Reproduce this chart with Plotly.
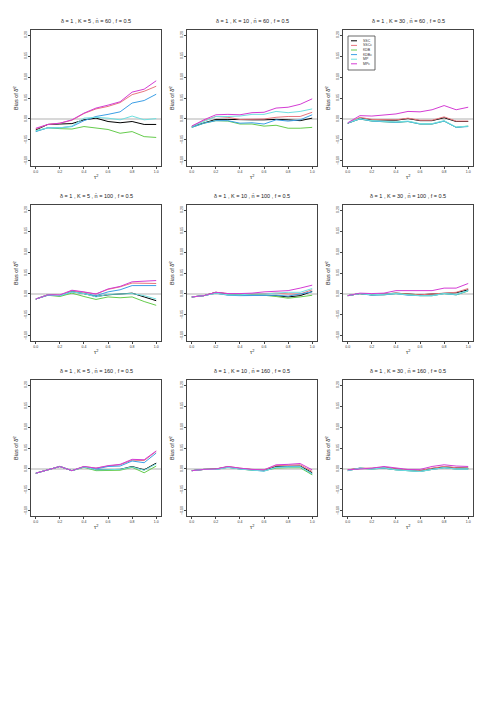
import plotly.graph_objects as go

# page body has an 8px margin, so the figure is 16px smaller than the window
OFF = 8
W, H = 495 - 2 * OFF, 726 - 2 * OFF

# tau^2 grid
tau2 = [0.0, 0.1, 0.2, 0.3, 0.4, 0.5, 0.6, 0.7, 0.8, 0.9, 1.0]

methods = ["SSC", "SSCc", "KDB", "KDBc", "MP", "MPc"]
colors = ["#000000", "#E8767E", "#66CC4D", "#3C9FE6", "#6FE0E0", "#D43CD4"]

K_vals = [5, 10, 30]
nbar_vals = [60, 100, 160]

# bias values, one list per method (order as in `methods`)
k5_n60 = [
    [-0.026, -0.013, -0.012, -0.011, -0.002, 0.002, -0.006, -0.009, -0.006, -0.013, -0.013],
    [-0.024, -0.013, -0.010, -0.003, 0.013, 0.024, 0.030, 0.039, 0.058, 0.066, 0.078],
    [-0.029, -0.021, -0.023, -0.024, -0.018, -0.021, -0.025, -0.034, -0.030, -0.042, -0.044],
    [-0.030, -0.021, -0.021, -0.018, -0.004, 0.006, 0.011, 0.017, 0.038, 0.044, 0.059],
    [-0.028, -0.021, -0.021, -0.017, 0.002, 0.004, 0.002, -0.002, 0.007, -0.002, 0.001],
    [-0.022, -0.013, -0.010, -0.002, 0.014, 0.026, 0.033, 0.041, 0.064, 0.071, 0.091],
]
k10_n60 = [
    [-0.018, -0.009, -0.001, -0.001, -0.002, -0.002, -0.002, -0.001, -0.002, -0.004, 0.002],
    [-0.017, -0.004, 0.006, 0.004, -0.001, -0.001, 0.000, 0.004, 0.006, 0.006, 0.016],
    [-0.020, -0.010, -0.004, -0.005, -0.012, -0.012, -0.017, -0.015, -0.022, -0.022, -0.020],
    [-0.020, -0.010, -0.004, -0.004, -0.010, -0.009, -0.012, -0.002, -0.005, -0.002, 0.010],
    [-0.018, -0.006, 0.006, 0.006, 0.007, 0.011, 0.011, 0.018, 0.015, 0.018, 0.024],
    [-0.017, -0.002, 0.010, 0.011, 0.010, 0.015, 0.016, 0.026, 0.028, 0.035, 0.048],
]
k30_n60 = [
    [-0.010, 0.002, -0.002, -0.002, -0.003, 0.001, -0.004, -0.004, 0.003, -0.006, -0.006],
    [-0.010, 0.004, -0.001, -0.001, -0.002, 0.002, -0.003, -0.003, 0.005, -0.005, -0.005],
    [-0.010, 0.000, -0.005, -0.007, -0.008, -0.006, -0.012, -0.012, -0.005, -0.020, -0.017],
    [-0.010, 0.000, -0.005, -0.007, -0.008, -0.006, -0.012, -0.012, -0.005, -0.020, -0.018],
    [-0.009, 0.001, -0.004, -0.006, -0.007, -0.005, -0.011, -0.011, -0.004, -0.019, -0.017],
    [-0.009, 0.008, 0.007, 0.010, 0.012, 0.018, 0.017, 0.022, 0.032, 0.022, 0.028],
]
k5_n100 = [
    [-0.012, -0.002, -0.004, 0.006, 0.001, -0.006, -0.002, 0.000, 0.002, -0.007, -0.016],
    [-0.012, -0.002, -0.003, 0.008, 0.004, 0.000, 0.011, 0.017, 0.026, 0.026, 0.025],
    [-0.012, -0.003, -0.006, 0.002, -0.006, -0.013, -0.007, -0.009, -0.007, -0.018, -0.027],
    [-0.012, -0.003, -0.004, 0.005, 0.001, -0.004, 0.005, 0.010, 0.020, 0.020, 0.020],
    [-0.012, -0.002, -0.004, 0.005, 0.001, -0.007, -0.001, 0.000, 0.001, -0.004, -0.012],
    [-0.012, -0.002, -0.002, 0.009, 0.005, 0.000, 0.012, 0.018, 0.029, 0.030, 0.032],
]
k10_n100 = [
    [-0.007, -0.004, 0.004, 0.000, -0.002, -0.002, -0.003, -0.004, -0.007, -0.004, 0.006],
    [-0.007, -0.004, 0.004, 0.001, 0.000, 0.000, 0.001, 0.002, 0.000, 0.000, 0.010],
    [-0.007, -0.004, 0.002, -0.002, -0.002, -0.003, -0.003, -0.006, -0.010, -0.007, -0.003],
    [-0.007, -0.004, 0.002, -0.003, -0.004, -0.004, -0.003, -0.003, -0.005, 0.000, 0.005],
    [-0.007, -0.004, 0.002, -0.002, -0.002, 0.000, 0.000, 0.002, 0.004, 0.004, 0.013],
    [-0.007, -0.004, 0.004, 0.001, 0.001, 0.002, 0.005, 0.006, 0.008, 0.014, 0.021],
]
k30_n100 = [
    [-0.004, 0.001, -0.002, 0.000, 0.002, 0.000, -0.002, 0.000, 0.002, 0.003, 0.010],
    [-0.004, 0.001, -0.002, 0.000, 0.002, 0.000, -0.002, 0.000, 0.002, 0.004, 0.013],
    [-0.004, 0.001, -0.002, -0.002, 0.001, -0.002, -0.004, -0.004, 0.001, -0.002, 0.007],
    [-0.004, 0.001, -0.003, -0.002, 0.001, -0.003, -0.004, -0.004, 0.001, -0.002, 0.008],
    [-0.004, 0.001, -0.002, -0.001, 0.001, -0.002, -0.004, -0.004, 0.001, -0.001, 0.008],
    [-0.004, 0.002, 0.001, 0.002, 0.008, 0.008, 0.008, 0.008, 0.014, 0.014, 0.025],
]
k5_n160 = [
    [-0.010, -0.002, 0.006, -0.004, 0.005, -0.002, -0.001, -0.001, 0.006, -0.002, 0.014],
    [-0.010, -0.002, 0.006, -0.004, 0.006, 0.002, 0.007, 0.010, 0.021, 0.020, 0.042],
    [-0.010, -0.002, 0.006, -0.004, 0.004, -0.004, -0.003, -0.003, 0.004, -0.009, 0.007],
    [-0.010, -0.002, 0.006, -0.004, 0.005, 0.000, 0.006, 0.007, 0.019, 0.015, 0.038],
    [-0.010, -0.002, 0.006, -0.004, 0.005, -0.002, -0.002, -0.001, 0.005, -0.003, 0.012],
    [-0.010, -0.002, 0.006, -0.004, 0.006, 0.002, 0.008, 0.011, 0.023, 0.022, 0.043],
]
k10_n160 = [
    [-0.004, -0.001, 0.000, 0.005, 0.001, -0.002, -0.004, 0.006, 0.006, 0.007, -0.009],
    [-0.004, -0.001, 0.000, 0.006, 0.002, -0.001, -0.002, 0.008, 0.009, 0.010, -0.006],
    [-0.004, -0.001, -0.001, 0.004, 0.000, -0.003, -0.004, 0.002, 0.003, 0.003, -0.014],
    [-0.004, -0.001, -0.001, 0.004, 0.000, -0.003, -0.005, 0.004, 0.006, 0.006, -0.012],
    [-0.004, -0.001, -0.001, 0.004, 0.000, -0.003, -0.005, 0.004, 0.005, 0.005, -0.011],
    [-0.004, -0.001, 0.000, 0.006, 0.002, -0.001, -0.002, 0.010, 0.011, 0.013, -0.002],
]
k30_n160 = [
    [-0.002, 0.001, 0.001, 0.004, 0.000, -0.002, -0.004, 0.001, 0.005, 0.003, 0.002],
    [-0.002, 0.002, 0.002, 0.004, 0.000, -0.002, -0.004, 0.002, 0.006, 0.003, 0.002],
    [-0.004, 0.002, 0.000, 0.002, -0.002, -0.004, -0.006, -0.001, 0.003, 0.000, 0.000],
    [-0.004, 0.002, 0.000, 0.002, -0.002, -0.004, -0.006, -0.001, 0.003, 0.000, 0.000],
    [-0.004, 0.002, 0.000, 0.003, -0.002, -0.004, -0.006, -0.001, 0.003, 0.000, 0.000],
    [-0.002, 0.000, 0.002, 0.006, 0.002, -0.001, -0.001, 0.006, 0.010, 0.007, 0.006],
]

panels = [
    [k5_n60, k10_n60, k30_n60],
    [k5_n100, k10_n100, k30_n100],
    [k5_n160, k10_n160, k30_n160],
]

yticks = [-0.10, -0.05, 0.00, 0.05, 0.10, 0.15, 0.20]
xticks = [0.0, 0.2, 0.4, 0.6, 0.8, 1.0]

FONT = "Liberation Sans, Arial, sans-serif"

# panel boxes in window pixels
col_left = [31, 187, 343]
row_top = [30, 205, 380]
box_w, box_h = 130, 136


def px(x):
    return (x - OFF) / W


def py(y):
    return 1 - (y - OFF) / H


fig = go.Figure()
annotations = []
shapes = []

for r in range(3):
    for c in range(3):
        k = r * 3 + c + 1
        xa = "x" if k == 1 else f"x{k}"
        ya = "y" if k == 1 else f"y{k}"
        L, T = col_left[c], row_top[r]
        fig.update_layout(**{
            ("xaxis" if k == 1 else f"xaxis{k}"): dict(
                domain=[px(L), px(L + box_w)], anchor=ya, range=[-0.04, 1.04],
                tickvals=xticks, tickformat=".1f", ticks="outside", ticklen=2,
                tickwidth=0.6, tickcolor="#444", showgrid=False, zeroline=False,
                showline=True, mirror=True, linecolor="#444", linewidth=1,
                tickfont=dict(size=3.5, color="#333", family=FONT),
            ),
            ("yaxis" if k == 1 else f"yaxis{k}"): dict(
                domain=[py(T + box_h), py(T)], anchor=xa, range=[-0.112, 0.212],
                tickvals=yticks, tickformat=".2f", ticks="outside", ticklen=2,
                tickwidth=0.6, tickcolor="#444", showgrid=False, zeroline=False,
                showline=True, mirror=True, linecolor="#444", linewidth=1,
                tickangle=-90, tickfont=dict(size=3.5, color="#333", family=FONT),
            ),
        })
        # horizontal reference at zero
        shapes.append(dict(type="line", xref=f"{xa} domain", yref=ya, x0=0, x1=1,
                           y0=0, y1=0, line=dict(color="#D8D8D8", width=2), layer="below"))
        for m, name in enumerate(methods):
            fig.add_trace(go.Scatter(
                x=tau2, y=panels[r][c][m], mode="lines", name=name,
                line=dict(color=colors[m], width=1), xaxis=xa, yaxis=ya,
                showlegend=False,
            ))
        annotations.append(dict(
            x=px(L + box_w / 2), y=py(T - 9), xref="paper", yref="paper",
            xanchor="center", yanchor="middle",
            text=f"δ = 1 , K = {K_vals[c]} , n\u0304 = {nbar_vals[r]} , f = 0.5",
            showarrow=False, font=dict(size=5.5, color="#222", family=FONT)))
        annotations.append(dict(
            x=px(L - 15), y=py(T + box_h / 2), xref="paper", yref="paper",
            xanchor="center", yanchor="middle",
            text="Bias of δ\u0302<sup>2</sup>", textangle=-90,
            showarrow=False, font=dict(size=5.5, color="#222", family=FONT)))
        annotations.append(dict(
            x=px(L + box_w / 2), y=py(T + box_h + 11), xref="paper", yref="paper",
            xanchor="center", yanchor="middle",
            text="τ<sup>2</sup>", showarrow=False,
            font=dict(size=5.5, color="#222", family=FONT)))

# legend drawn inside top-right panel
lg_x0, lg_y0, lg_x1, lg_y1 = 348, 36, 375, 70
shapes.append(dict(type="rect", xref="paper", yref="paper",
                   x0=px(lg_x0), x1=px(lg_x1), y0=py(lg_y1), y1=py(lg_y0),
                   line=dict(color="#444", width=0.8), fillcolor="white"))
for m, name in enumerate(methods):
    yy = 40.8 + m * 4.6
    shapes.append(dict(type="line", xref="paper", yref="paper",
                       x0=px(351), x1=px(357), y0=py(yy), y1=py(yy),
                       line=dict(color=colors[m], width=1)))
    annotations.append(dict(x=px(361), y=py(yy), xref="paper", yref="paper",
                            text=name, xanchor="left", yanchor="middle", showarrow=False,
                            font=dict(size=3.5, color="#333", family=FONT)))

fig.update_layout(
    width=W, height=H, margin=dict(l=0, r=0, t=0, b=0),
    paper_bgcolor="white", plot_bgcolor="white",
    annotations=annotations, shapes=shapes, showlegend=False,
)

fig.write_html("out.html")
